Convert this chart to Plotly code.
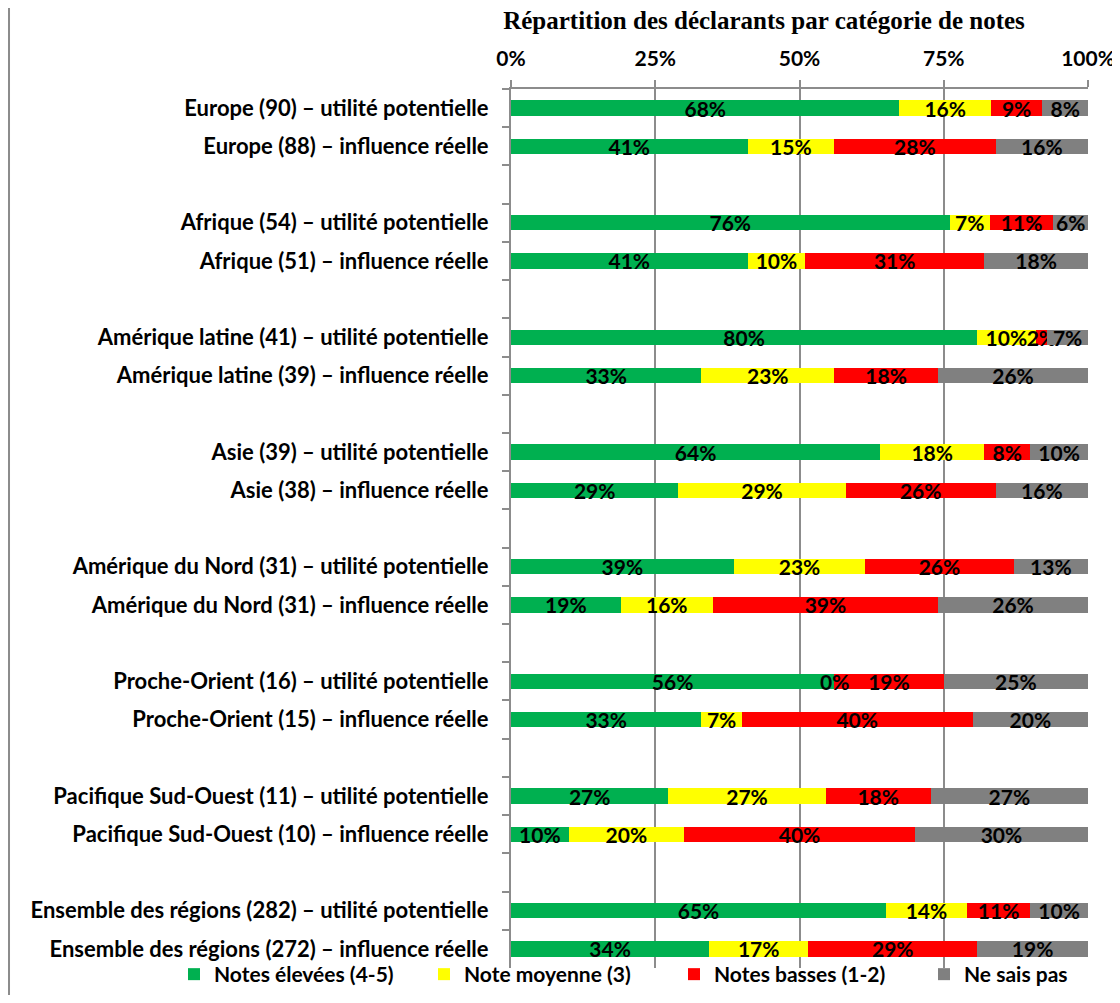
import numpy as np
import plotly.graph_objects as go

# rows top to bottom (the blank rows separate the regions)
rows = [
    "Europe (90) – utilité potentielle",
    "Europe (88) – influence réelle",
    "Afrique (54) – utilité potentielle",
    "Afrique (51) – influence réelle",
    "Amérique latine (41) – utilité potentielle",
    "Amérique latine (39) – influence réelle",
    "Asie (39) – utilité potentielle",
    "Asie (38) – influence réelle",
    "Amérique du Nord (31) – utilité potentielle",
    "Amérique du Nord (31) – influence réelle",
    "Proche-Orient (16) – utilité potentielle",
    "Proche-Orient (15) – influence réelle",
    "Pacifique Sud-Ouest (11) – utilité potentielle",
    "Pacifique Sud-Ouest (10) – influence réelle",
    "Ensemble des régions (282) – utilité potentielle",
    "Ensemble des régions (272) – influence réelle",
]

elevees = [68, 41, 76, 41, 80, 33, 64, 29, 39, 19, 56, 33, 27, 10, 65, 34]
moyenne = [16, 15, 7, 10, 10, 23, 18, 29, 23, 16, 0, 7, 27, 20, 14, 17]
basses = [9, 28, 11, 31, 2, 18, 8, 26, 26, 39, 19, 40, 18, 40, 11, 29]
nsp = [8, 16, 6, 18, 7, 26, 10, 16, 13, 26, 25, 20, 27, 30, 10, 19]

series = [
    ("Notes élevées (4-5)", elevees, "#00B050"),
    ("Note moyenne (3)", moyenne, "#FFFF00"),
    ("Notes basses (1-2)", basses, "#FF0000"),
    ("Ne sais pas", nsp, "#808080"),
]

ticks_pct = [0, 25, 50, 75, 100]
tick_text = ["0%", "25%", "50%", "75%", "100%"]

# build category list with a blank row between each pair
cats = []
blank = 1
for i, r in enumerate(rows):
    cats.append(r)
    if i % 2 == 1 and i < len(rows) - 1:
        cats.append(" " * blank)
        blank += 1

totals = np.sum([s[1] for s in series], axis=0)
grid = "#8C8C8C"
font = "Lato"
bold = dict(family=font, size=21, color="black", weight="bold")

W, H = 1112, 987  # page adds an 8px body margin

fig = go.Figure()
legend_names = ["legend", "legend2", "legend3", "legend4"]
for k, (name, vals, color) in enumerate(series):
    vals = np.array(vals, dtype=float)
    width = vals / totals * 100
    lookup = dict(zip(rows, width))
    labels = dict(zip(rows, [f"{int(v)}%" for v in vals]))
    fig.add_trace(go.Bar(
        y=cats,
        x=[lookup.get(c) for c in cats],
        text=[labels.get(c, "") for c in cats],
        name=name,
        orientation="h",
        marker=dict(color=color, line=dict(width=0)),
        textposition="inside",
        insidetextanchor="middle",
        textangle=0,
        textfont=bold,
        cliponaxis=False,
        legend=legend_names[k],
    ))

# zero-width segment still carries its label
cum = np.array(elevees) / totals * 100
for i, v in enumerate(moyenne):
    if v == 0:
        fig.add_annotation(x=cum[i], y=rows[i], text=f"{v}%", showarrow=False,
                           font=bold)

# one legend per entry so they sit evenly like the original
legends = {}
for k, ln in enumerate(legend_names):
    legends[ln] = dict(orientation="h", xref="container", yref="container",
                       x=(166 + 250 * k) / W, xanchor="left",
                       y=0, yanchor="bottom",
                       font=bold, bgcolor="rgba(0,0,0,0)")

fig.update_layout(
    width=W, height=H,
    barmode="stack", bargap=0.6,
    plot_bgcolor="white", paper_bgcolor="white",
    margin=dict(l=503, r=32, t=81, b=27, autoexpand=False),
    uniformtext=dict(minsize=21, mode="show"),
    title=dict(text="<b>Répartition des déclarants par catégorie de notes</b>",
               x=756 / W, xanchor="center", y=1 - 12 / H, yanchor="middle",
               font=dict(family="Liberation Serif", size=25, color="black")),
    showlegend=True,
    shapes=[dict(type="line", xref="paper", yref="paper", x0=-0.870, x1=-0.870,
                 y0=-0.05, y1=1.12, line=dict(color="#8C8C8C", width=2))],
    **legends,
)

fig.update_xaxes(
    side="top", range=[0, 100], tickvals=ticks_pct, ticktext=tick_text,
    showgrid=True, gridcolor=grid, gridwidth=1.5,
    showline=True, linecolor=grid, linewidth=2,
    ticks="outside", ticklen=7, tickcolor=grid, tickwidth=1.5,
    tickfont=bold, ticklabelstandoff=6, ticklabeloverflow="allow",
    zeroline=False, automargin=False,
)
fig.update_yaxes(
    type="category", categoryorder="array", categoryarray=cats,
    autorange="reversed", tickson="boundaries",
    showline=True, linecolor=grid, linewidth=2, showgrid=False,
    ticks="outside", ticklen=7, tickcolor=grid, tickwidth=1.5,
    tickfont=dict(family=font, size=22, color="black", weight="bold"),
    ticklabelstandoff=16, automargin=False,
)

fig.write_html("out.html")
